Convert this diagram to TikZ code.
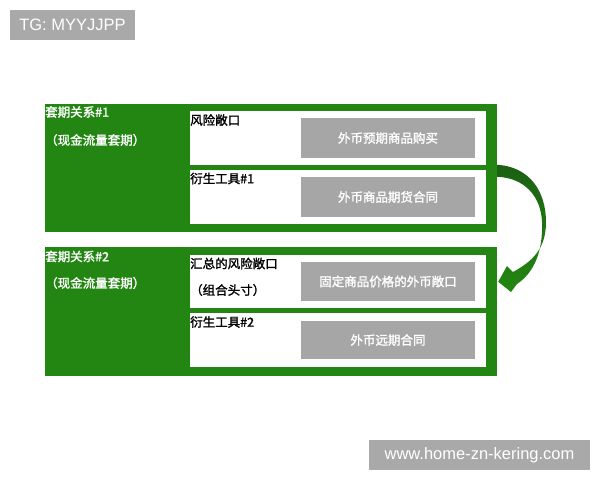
\documentclass[tikz,border=0pt]{standalone}
\usepackage{fontspec}
\setmainfont{Liberation Sans}
\newfontfamily\cjk[AutoFakeBold=1.6]{Noto Sans CJK SC}
\usepackage{tikz}
\usetikzlibrary{calc,positioning}
\definecolor{grn}{RGB}{35,134,18}
\definecolor{arrdark}{RGB}{28,96,20}
\definecolor{gry}{RGB}{166,166,166}
\definecolor{tagg}{RGB}{169,169,169}

\begin{document}
\begin{tikzpicture}[x=1pt,y=-1pt,
blk/.style={fill=grn,inner sep=0,minimum width=452,minimum height=128},
wbox/.style={fill=white,inner sep=0,minimum width=296,minimum height=54},
gbox/.style={fill=gry,inner sep=0,minimum width=174,minimum height=39,text=white,font=\cjk\bfseries\fontsize{12.5}{14}\selectfont},
glbl/.style={anchor=west,inner sep=0,text=white,font=\cjk\bfseries\fontsize{12.5}{14}\selectfont},
blbl/.style={anchor=west,inner sep=0,text=black,font=\cjk\bfseries\fontsize{12.5}{14}\selectfont},
tagbox/.style={fill=tagg,text=white,inner sep=0,font=\fontsize{16.5}{18}\selectfont}]
\useasboundingbox (0,0) rectangle (600,480);
\node[tagbox,minimum width=125,minimum height=30] (tg) at (72.5,25) {TG: MYYJJPP};
\node[tagbox,minimum width=221,minimum height=30] (www) at (479.5,455) {www.home-zn-kering.com};
% hedge relationship 1
\node[blk] (H1) at (271,168) {};
\node[wbox] (W1) at (338,138) {};
\node[wbox] (W2) at (338,197) {};
\node[gbox,minimum height=40] (G1) at (388,138) {外币预期商品购买};
\node[gbox,minimum height=40] (G2) at (388,197) {外币商品期货合同};
\node[glbl] (h1a) at (45,112) {套期关系\#1};
\node[glbl] (h1b) at (45,140) {（现金流量套期）};
\node[blbl] (r1) at (190,120) {风险敞口};
\node[blbl] (d1) at (190,178.5) {衍生工具\#1};
% hedge relationship 2
\node[blk,minimum height=129] (H2) at (271,311.5) {};
\node[wbox,minimum height=53] (W3) at (338,281.5) {};
\node[wbox] (W4) at (338,340) {};
\node[gbox] (G3) at (388,281.5) {固定商品价格的外币敞口};
\node[gbox,minimum height=38] (G4) at (388,340) {外币远期合同};
\node[glbl] (h2a) at (45,256.5) {套期关系\#2};
\node[glbl] (h2b) at (45,283) {（现金流量套期）};
\node[blbl] (r2) at (190,263.5) {汇总的风险敞口};
\node[blbl] (r2b) at (190,290) {（组合头寸）};
\node[blbl] (d2) at (190,322) {衍生工具\#2};
% curved arrow
\coordinate (a1) at ($(H1.north east)+(0,61)$);
\coordinate (a2) at ($(H1.north east)+(0,73)$);
\coordinate (tip) at ($(H2.north east)+(1,35)$);
\shade[top color=arrdark,bottom color=grn]
(a1) .. controls +(33,2) and +(0,-30) .. (546,222)
.. controls +(0,28) and +(18,-10) .. (513,272) -- (507,266) -- (tip) -- (511,292) -- (517,284)
.. controls +(18,-12) and +(1,28) .. (542,222)
.. controls +(-1,-26) and +(27,1) .. (a2) -- cycle;
\end{tikzpicture}
\end{document}
